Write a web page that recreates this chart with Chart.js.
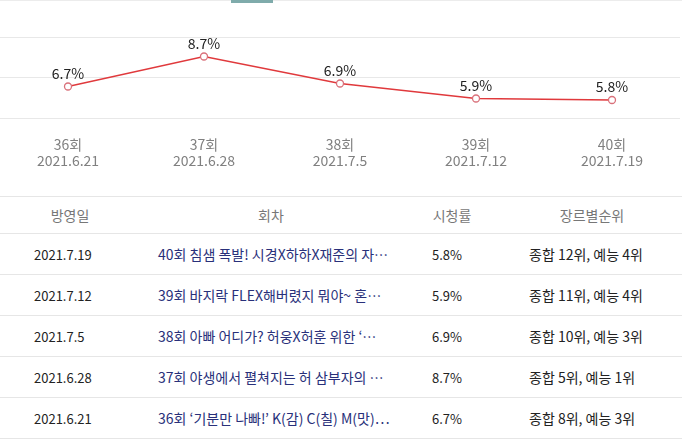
<!DOCTYPE html>
<html>
<head>
<meta charset="utf-8">
<script src="https://cdn.jsdelivr.net/npm/chart.js@4/dist/chart.umd.min.js"></script>
<style>
  body { margin: 0; background: #fff; font-family: "Noto Sans CJK KR", sans-serif; }
  .wrap { position: relative; width: 682px; height: 439px; overflow: hidden; }
  .topline { position: absolute; left: 0; top: 0; width: 682px; height: 1px; background: #ececec; }
  .tab { position: absolute; left: 231px; top: 0; width: 42px; height: 3px; background: #7fabab; }
  .chartbox { position: absolute; left: 0; top: 0; width: 680px; height: 196px; }
  table { position: absolute; left: 0; top: 196px; width: 682px; border-collapse: collapse; table-layout: fixed; font-size: 13px; }
  th { height: 36px; padding: 0; font-weight: normal; font-size: 14px; color: #777; text-align: center; border-top: 1px solid #e6e6e6; border-bottom: 1px solid #e6e6e6; }
  td { height: 40px; padding: 0; color: #222; border-bottom: 1px solid #e6e6e6; white-space: nowrap; overflow: hidden; }
  td.c1 { padding-left: 34px; }
  td.c2 { padding-left: 18px; color: #29307a; font-size: 14px; }
  td.c3 { padding-left: 30px; }
  td.c4 { padding-left: 27px; font-size: 14px; }
</style>
</head>
<body>
<div class="wrap">
  <div class="topline"></div>
  <div class="tab"></div>
  <div class="chartbox"><canvas id="chart" width="680" height="196"></canvas></div>
  <table>
    <colgroup><col style="width:140px"><col style="width:262px"><col style="width:100px"><col style="width:180px"></colgroup>
    <thead><tr id="head"></tr></thead>
    <tbody id="rows"></tbody>
  </table>
</div>
<script>
// chart data
const episodes = ['36회', '37회', '38회', '39회', '40회'];
const dates = ['2021.6.21', '2021.6.28', '2021.7.5', '2021.7.12', '2021.7.19'];
const ratings = [6.7, 8.7, 6.9, 5.9, 5.8];

// table data (newest first)
const headers = ['방영일', '회차', '시청률', '장르별순위'];
const rowDates = ['2021.7.19', '2021.7.12', '2021.7.5', '2021.6.28', '2021.6.21'];
const rowTitles = [
    '40회 침샘 폭발! 시경X하하X재준의 자…',
    '39회 바지락 FLEX해버렸지 뭐야~ 혼…',
    '38회 아빠 어디가? 허웅X허훈 위한 ‘…',
    '37회 야생에서 펼쳐지는 허 삼부자의 …',
    '36회 ‘기분만 나빠!’ K(감) C(칠) M(맛)…'
];
const rowRatings = ['5.8%', '5.9%', '6.9%', '8.7%', '6.7%'];
const rowRanks = ['종합 12위, 예능 4위', '종합 11위, 예능 4위', '종합 10위, 예능 3위', '종합 5위, 예능 1위', '종합 8위, 예능 3위'];

const FONT = '"Noto Sans CJK KR", sans-serif';

const valueLabels = {
    id: 'valueLabels',
    afterDatasetsDraw(chart) {
        let ctx = chart.ctx;
        let meta = chart.getDatasetMeta(0);
        ctx.save();
        ctx.font = '14px ' + FONT;
        ctx.fillStyle = '#222';
        ctx.textAlign = 'center';
        ctx.textBaseline = 'middle';
        meta.data.forEach((pt, i) => {
            ctx.fillText(ratings[i].toFixed(1) + '%', pt.x, pt.y - 13);
        });
        ctx.restore();
    }
};

new Chart(document.getElementById('chart'), {
    type: 'line',
    data: {
        labels: episodes.map((e, i) => [e, dates[i]]),
        datasets: [{
            data: ratings,
            borderColor: '#e0393c',
            borderWidth: 1.3,
            pointBackgroundColor: '#fff',
            pointBorderColor: '#d9707a',
            pointBorderWidth: 1.3,
            pointRadius: 3.5,
            tension: 0,
            clip: false
        }]
    },
    options: {
        responsive: false,
        animation: false,
        layout: { autoPadding: false, padding: { top: 37, left: 0, right: 0, bottom: 0 } },
        plugins: { legend: { display: false }, tooltip: { enabled: false } },
        scales: {
            x: {
                offset: true,
                grid: { display: false, drawTicks: false },
                border: { display: false },
                ticks: { color: '#808080', font: { family: FONT, size: 14, lineHeight: 1.15 }, padding: 19, maxRotation: 0 },
                afterFit(scale) { scale.height = 78; }
            },
            y: {
                min: 4.6,
                max: 10.0,
                grid: { color: '#e8e8e8', drawTicks: false },
                border: { display: false },
                ticks: { display: false, stepSize: 2.7 },
                afterFit(scale) { scale.width = 0; }
            }
        }
    },
    plugins: [valueLabels]
});

// table
document.getElementById('head').innerHTML = headers.map(h => '<th>' + h + '</th>').join('');
let html = '';
for (let i = 0; i < rowDates.length; i++) {
    html += '<tr><td class="c1">' + rowDates[i] + '</td><td class="c2">' + rowTitles[i] +
        '</td><td class="c3">' + rowRatings[i] + '</td><td class="c4">' + rowRanks[i] + '</td></tr>';
}
document.getElementById('rows').innerHTML = html;
</script>
</body>
</html>
